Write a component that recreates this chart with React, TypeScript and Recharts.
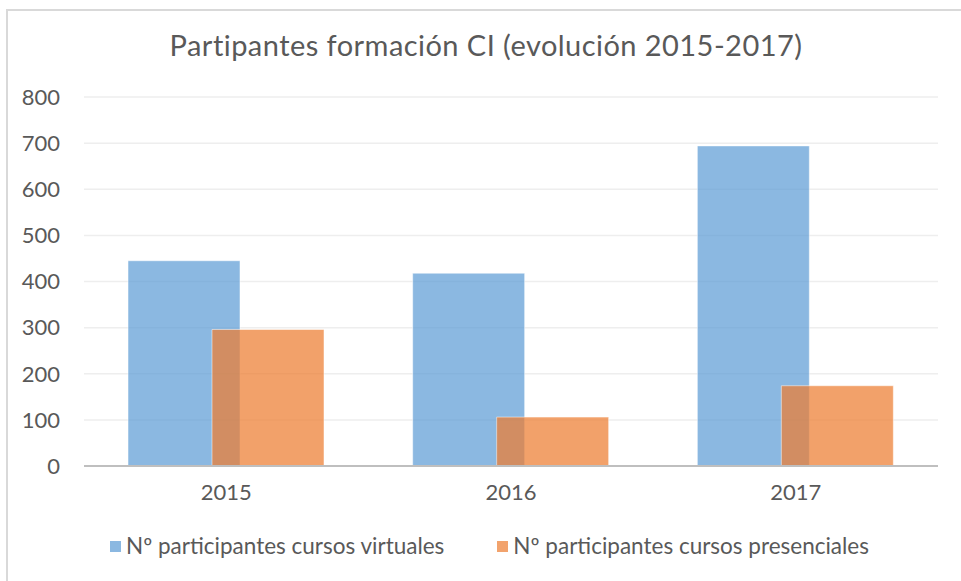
import { Bar, BarChart, CartesianGrid, Legend, XAxis, YAxis } from "recharts";

const years = ["2015", "2016", "2017"];
const virtuales = [445, 418, 694];
const presenciales = [296, 106, 174];
const yTicks = [0, 100, 200, 300, 400, 500, 600, 700, 800];

const seriesNames = {
  virtuales: "Nº participantes cursos virtuales",
  presenciales: "Nº participantes cursos presenciales",
};

const BLUE = "#5B9BD5";
const ORANGE = "#ED7D31";
const TEXT = "#595959";
const FONT = "Lato, 'Open Sans', sans-serif";

const data = years.map((year, i) => ({
  year,
  virtuales: virtuales[i],
  presenciales: presenciales[i],
}));

function ChartLegend() {
  const items = [
    { name: seriesNames.virtuales, color: BLUE },
    { name: seriesNames.presenciales, color: ORANGE },
  ];
  return (
    <div
      style={{
        display: "flex",
        justifyContent: "center",
        gap: 53,
        paddingLeft: 18,
        fontFamily: FONT,
        fontSize: 22.5,
        color: TEXT,
        height: 26,
        lineHeight: "26px",
      }}
    >
      {items.map((item) => (
        <div key={item.name} style={{ display: "flex", alignItems: "center" }}>
          <span
            style={{
              width: 11,
              height: 11,
              background: item.color,
              opacity: 0.71,
              marginRight: 5,
              display: "inline-block",
            }}
          />
          <span>{item.name}</span>
        </div>
      ))}
    </div>
  );
}

export default function App() {
  return (
    <div
      style={{
        position: "absolute",
        left: 0,
        top: 0,
        width: 961,
        height: 581,
        background: "#ffffff",
        overflow: "hidden",
      }}
    >
      <div
        style={{
          position: "absolute",
          left: 6,
          top: 9,
          width: 970,
          height: 590,
          border: "2px solid #d9d9d9",
          boxSizing: "border-box",
        }}
      />
      <div
        style={{
          position: "absolute",
          left: 0,
          top: 27,
          width: 972,
          textAlign: "center",
          fontFamily: FONT,
          fontSize: 29,
          color: TEXT,
          letterSpacing: 0.45,
        }}
      >
        Partipantes formación CI (evolución 2015-2017)
      </div>
      <BarChart
        width={961}
        height={581}
        data={data}
        margin={{ top: 97, right: 23, bottom: 59, left: 0 }}
        barSize={112}
        barGap={-28}
        style={{ position: "absolute", left: 0, top: 0 }}
      >
        <CartesianGrid vertical={false} stroke="#eeeeee" strokeWidth={1.5} />
        <YAxis
          width={84}
          domain={[0, 800]}
          ticks={yTicks}
          tickLine={false}
          axisLine={false}
          tickSize={0}
          tickMargin={24}
          tick={{ fill: TEXT, fontSize: 22, fontFamily: FONT }}
        />
        <XAxis
          dataKey="year"
          height={30}
          tickLine={false}
          tickSize={0}
          tickMargin={18}
          axisLine={{ stroke: "#bfbfbf", strokeWidth: 2 }}
          tick={{ fill: TEXT, fontSize: 22, fontFamily: FONT }}
        />
        <Legend
          content={<ChartLegend />}
          wrapperStyle={{ position: "absolute", top: 533, left: 0, width: 961, height: 26 }}
        />
        <Bar
          dataKey="virtuales"
          name={seriesNames.virtuales}
          fill={BLUE}
          fillOpacity={0.71}
          stroke="#ffffff"
          strokeOpacity={0.5}
          isAnimationActive={false}
        />
        <Bar
          dataKey="presenciales"
          name={seriesNames.presenciales}
          fill={ORANGE}
          fillOpacity={0.72}
          stroke="#ffffff"
          strokeOpacity={0.5}
          isAnimationActive={false}
        />
      </BarChart>
    </div>
  );
}
